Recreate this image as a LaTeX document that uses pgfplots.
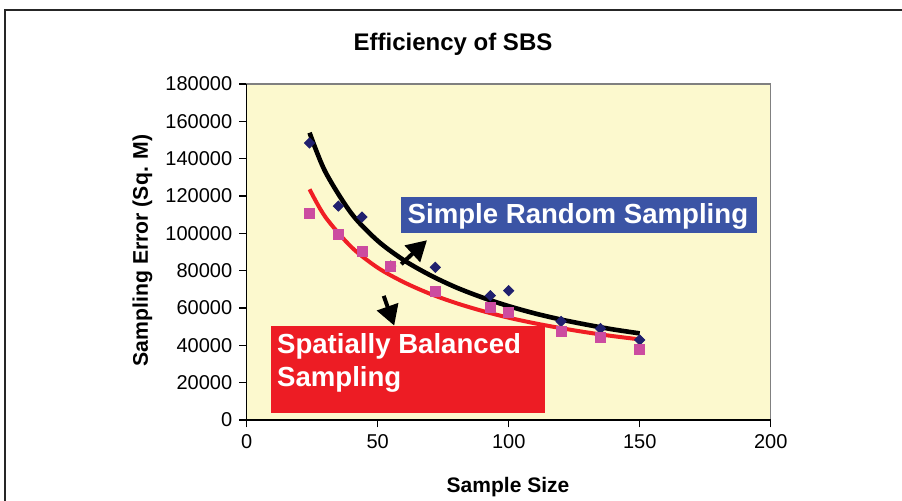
\documentclass[border=0pt]{standalone}
\usepackage{fontspec}
\setmainfont{Liberation Sans}
\usepackage{pgfplots}
\pgfplotsset{compat=1.18}
\usetikzlibrary{arrows.meta}
\definecolor{bgyellow}{RGB}{252,249,206}
\definecolor{boxblue}{RGB}{59,84,165}
\definecolor{boxred}{RGB}{237,28,36}
\definecolor{navy}{RGB}{32,32,110}
\definecolor{pinkm}{RGB}{204,76,160}
\definecolor{trendred}{RGB}{240,30,36}
\begin{document}
\begin{tikzpicture}
\path[use as bounding box] (0,0) rectangle (451pt,250pt);
\draw[line width=1.1pt, black!85] (2.5pt,-20pt) rectangle (480pt,245pt);
\begin{axis}[
  at={(123.35pt,40pt)}, anchor=south west,
  scale only axis, width=262pt, height=168pt,
  xmin=0, xmax=200, ymin=0, ymax=180000,
  xtick={0,50,100,150,200},
  xticklabels={0,50,100,150,200},
  ytick={0,20000,40000,60000,80000,100000,120000,140000,160000,180000},
  yticklabels={0,20000,40000,60000,80000,100000,120000,140000,160000,180000},
  scaled ticks=false,
  xtick pos=bottom, ytick pos=left,
  tick align=outside,
  major tick length=3.7pt,
  tick style={black, line width=0.6pt},
  axis line style={black!50, line width=0.6pt},
  axis background/.style={fill=bgyellow},
  tick label style={font=\fontsize{10}{12}\selectfont},
  every axis title shift=0pt,
  title={Efficiency of SBS},
  title style={at={(axis description cs:0.3937,1.101)}, anchor=base, font=\bfseries\fontsize{12}{14}\selectfont, inner sep=0pt},
  xlabel={Sample Size},
  xlabel style={at={(axis description cs:0.4987,-0.2143)}, anchor=base, font=\bfseries\fontsize{10.5}{12}\selectfont, inner sep=0pt},
  ylabel={Sampling Error (Sq. M)},
  ylabel style={at={(axis description cs:-0.1884,0.505)}, anchor=base, font=\bfseries\fontsize{10.6}{12}\selectfont, inner sep=0pt},
  clip=false,
]
\addplot[only marks, mark=square*, mark size=1.8pt, mark options={rotate=45, fill=navy, draw=navy}] coordinates {
 (24,148400) (35,114600) (44,108700) (55,82500) (72,81800) (93,66600) (100,69300) (120,52800) (135,49000) (150,42900)
};
\addplot[only marks, mark=square*, mark size=2.5pt, mark options={fill=pinkm, draw=pinkm}] coordinates {
 (24,110700) (35,99500) (44,90500) (55,82500) (72,69100) (93,60200) (100,57700) (120,47300) (135,44300) (150,38000)
};
\addplot[black, line width=2.3pt, smooth] coordinates {
 (24,153900) (30,133000) (40,110600) (50,96000) (60,85600) (70,77600) (80,71000) (90,65600) (100,61000) (110,57100) (120,53800) (130,51000) (140,48500) (150,46400)
};
\addplot[trendred, line width=2pt, smooth] coordinates {
 (24,123600) (30,108800) (40,92600) (50,81600) (60,73800) (70,67600) (80,62600) (90,58400) (100,54800) (110,51800) (120,49200) (130,46900) (140,44900) (150,43200)
};
\draw[black, line width=0.8pt] (rel axis cs:0,1) -- (rel axis cs:0,0) -- (rel axis cs:1,0);
\draw[black, line width=2pt, -{Triangle[length=10pt,width=11pt]}] (axis cs:59.0,83500) -- (axis cs:68.8,96300);
\draw[black, line width=2pt, -{Triangle[length=10pt,width=11pt]}] (axis cs:52.3,66500) -- (axis cs:56.3,50600);
\fill[boxblue] (axis cs:58.8,100000) rectangle (axis cs:194.8,119300);
\node[anchor=base west, text=white, inner sep=0pt, font=\bfseries\fontsize{13.8}{16}\selectfont] at (axis cs:61.3,105400) {Simple Random Sampling};
\fill[boxred] (axis cs:9.3,3750) rectangle (axis cs:113.9,50400);
\node[anchor=base west, text=white, inner sep=0pt, font=\bfseries\fontsize{13.8}{16}\selectfont] at (axis cs:11.45,35700) {Spatially Balanced};
\node[anchor=base west, text=white, inner sep=0pt, font=\bfseries\fontsize{13.8}{16}\selectfont] at (axis cs:11.45,18200) {Sampling};
\end{axis}
\end{tikzpicture}
\end{document}
